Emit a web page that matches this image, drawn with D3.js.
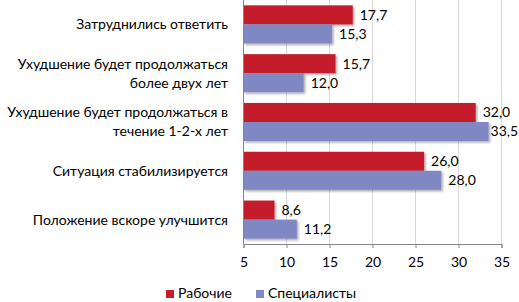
<!DOCTYPE html>
<html><head><meta charset="utf-8">
<script src="https://cdn.jsdelivr.net/npm/d3@7"></script>
<style>
body{margin:0;background:#fff;}
text{font-family:Lato,"Open Sans",sans-serif;fill:#000;}
</style></head>
<body><svg id="c" width="519" height="302"></svg>
<script>
const categories = [
  ["Затруднились ответить"],
  ["Ухудшение будет продолжаться", "более двух лет"],
  ["Ухудшение будет продолжаться в", "течение 1-2-х лет"],
  ["Ситуация стабилизируется"],
  ["Положение вскоре улучшится"]
];
const workers = [17.7, 15.7, 32.0, 26.0, 8.6];
const specialists = [15.3, 12.0, 33.5, 28.0, 11.2];
const seriesNames = ["Рабочие", "Специалисты"];
const xTicks = [5, 10, 15, 20, 25, 30, 35];

(function(){
const svg = d3.select("#c");
const colors = ["#C41E2A", "#8088C4"];
const FONT = 'Lato,"Open Sans",sans-serif';
const FS = 14;
const W = 519;
const pLeft = 243.5, pRight = 501.5, pTop = 0, pBottom = 244;

const defs = svg.append("defs");
const f = defs.append("filter").attr("id","sh").attr("x","-5%").attr("y","-20%").attr("width","115%").attr("height","160%");
f.append("feDropShadow").attr("dx",1.5).attr("dy",1.5).attr("stdDeviation",1).attr("flood-color","#000").attr("flood-opacity",0.35);

const x = d3.scaleLinear().domain([5, 35]).range([pLeft, pRight]);
const y = d3.scaleBand().domain(d3.range(categories.length)).range([pTop, pBottom]).paddingInner(0.22).paddingOuter(0.11);
const sub = d3.scaleBand().domain([0,1]).range([0, y.bandwidth()]);

svg.append("g").selectAll("line").data(xTicks.slice(1)).join("line")
  .attr("x1", d => x(d)).attr("x2", d => x(d)).attr("y1", pTop).attr("y2", pBottom)
  .attr("stroke", "#d9d9d9").attr("stroke-width", 1).attr("shape-rendering","crispEdges");

const series = [workers, specialists];
const g = svg.append("g");
series.forEach((vals, si) => {
  g.selectAll(".b"+si).data(vals).join("rect").attr("class","b"+si)
    .attr("x", x(5)).attr("y", (d,i) => y(i) + sub(si))
    .attr("width", d => x(d) - x(5)).attr("height", sub.bandwidth())
    .attr("fill", colors[si]).attr("filter","url(#sh)");
  g.selectAll(".l"+si).data(vals).join("text").attr("class","l"+si)
    .attr("x", d => x(d) + 7).attr("y", (d,i) => y(i) + sub(si) + sub.bandwidth()/2)
    .attr("dy","0.35em").attr("font-size", FS)
    .text(d => d.toFixed(1).replace(".", ","))
    .each(function(d){
      const w = this.getComputedTextLength();
      const sx = Math.min(x(d) + 7, W - 1 - w);
      d3.select(this).attr("x", Math.max(sx, x(d) + 2));
    });
});

const ax = svg.append("g").attr("transform", `translate(0,${pBottom})`)
  .call(d3.axisBottom(x).tickValues(xTicks).tickSize(4).tickPadding(9));
ax.select(".domain").attr("stroke","#868686");
ax.selectAll(".tick line").attr("stroke","#868686");
ax.selectAll("text").attr("font-size",FS).attr("font-family",FONT).attr("fill","#000");
svg.append("line").attr("x1", pLeft).attr("x2", pLeft).attr("y1", pTop).attr("y2", pBottom)
  .attr("stroke","#868686").attr("shape-rendering","crispEdges");

categories.forEach((lines, i) => {
  const cy = y(i) + y.bandwidth()/2;
  const t = svg.append("text").attr("text-anchor","end").attr("font-size",FS);
  lines.forEach((ln, k) => {
    t.append("tspan").attr("x", 228)
      .attr("y", cy + (k - (lines.length-1)/2) * 19)
      .attr("dy","0.35em").text(ln);
  });
});

const lg = svg.append("g");
const lx = [166, 256];
seriesNames.forEach((n, i) => {
  lg.append("rect").attr("x", lx[i]).attr("y", 290).attr("width", 8).attr("height", 8).attr("fill", colors[i]);
  lg.append("text").attr("x", lx[i] + 12).attr("y", 293.5).attr("dy","0.35em").attr("font-size",FS).text(n);
});
})();
</script></body></html>
